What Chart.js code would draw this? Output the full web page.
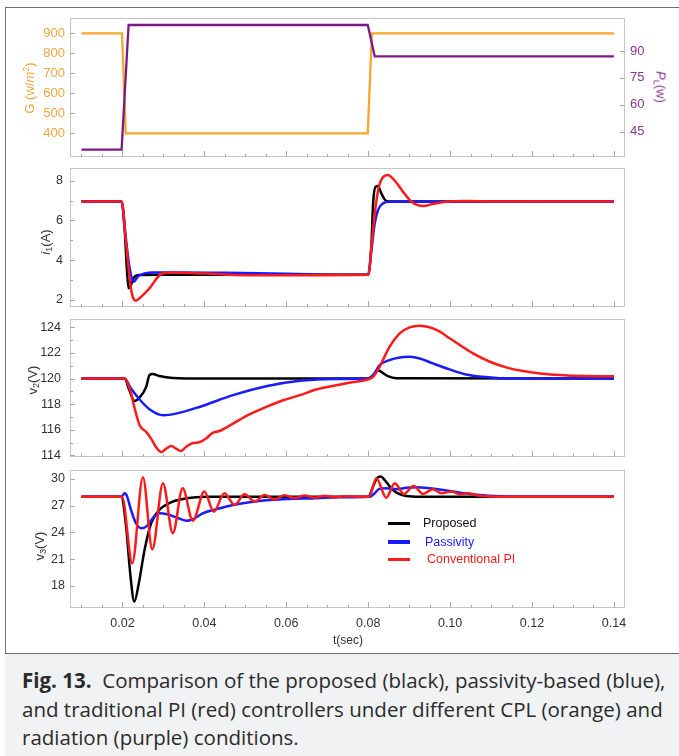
<!DOCTYPE html>
<html>
<head>
<meta charset="utf-8">
<script src="https://cdn.jsdelivr.net/npm/chart.js@4.4.0/dist/chart.umd.min.js"></script>
<style>
  html, body { margin: 0; padding: 0; background: #fff; }
  #page { position: relative; width: 679px; height: 756px; overflow: hidden; font-family: "Liberation Sans", Arial, sans-serif; }
  .frame { position: absolute; left: 5px; top: 7px; width: 700px; height: 760px; border-left: 1.5px solid #6f6f6f; border-top: 1.5px solid #6f6f6f; }
  canvas { position: absolute; left: 0; }
  .ttl { position: absolute; white-space: nowrap; font-size: 13px; line-height: 1; color: #333; transform: translate(-50%, -50%) rotate(-90deg); }
  .ttl.r { transform: translate(-50%, -50%) rotate(90deg); }
  .ttl.h { transform: translate(-50%, -50%); font-size: 12px; }
  sub, sup { font-size: 0.7em; line-height: 0; }
  sub { vertical-align: -0.3em; }
  sup { vertical-align: 0.55em; }
  .sw { position: absolute; left: 388px; width: 22px; height: 3.5px; }
  .lt { position: absolute; font-size: 12.5px; line-height: 1; transform: translateY(-50%); white-space: nowrap; }
  #cap { position: absolute; left: 5px; top: 653px; width: 674px; height: 103px; box-sizing: border-box;
         background: #f1f2f3; border-top: 1.5px solid #6f6f6f; padding: 12px 0 0 17px;
         font-family: "Open Sans", sans-serif; font-size: 20.5px; line-height: 28.5px; color: #2b2b2b;
         white-space: nowrap; }
</style>
</head>
<body>
<div id="page">
  <div class="frame"></div>
  <canvas id="c1" width="679" height="179" style="top:-2px"></canvas>
  <canvas id="c2" width="679" height="179" style="top:148px"></canvas>
  <canvas id="c3" width="679" height="178" style="top:299px"></canvas>
  <canvas id="c4" width="679" height="203" style="top:450px"></canvas>

  <div class="ttl" style="left:29px;top:88px;color:#f0a540">G (w/<i>m</i><sup>2</sup>)</div>
  <div class="ttl r" style="left:661px;top:87px;color:#8c3390"><i>P</i><sub>L</sub>(w)</div>
  <div class="ttl" style="left:45px;top:242px"><i>i</i><sub>1</sub>(A)</div>
  <div class="ttl" style="left:32px;top:380px">v<sub>2</sub>(V)</div>
  <div class="ttl" style="left:39px;top:546px">v<sub>3</sub>(V)</div>
  <div class="ttl h" style="left:348px;top:640px">t(sec)</div>

  <div class="sw" style="top:521.5px;background:#000"></div>
  <div class="lt" style="left:423px;top:523px;color:#111">Proposed</div>
  <div class="sw" style="top:540px;background:#1a1aff"></div>
  <div class="lt" style="left:425px;top:541.5px;color:#1a1aff">Passivity</div>
  <div class="sw" style="top:557.5px;background:#ff1a1a"></div>
  <div class="lt" style="left:427px;top:559px;color:#ff1a1a">Conventional PI</div>

  <div id="cap"><b>Fig. 13.</b>&nbsp; Comparison of the proposed (black), passivity-based (blue),<br>and traditional PI (red) controllers under different CPL (orange) and<br>radiation (purple) conditions.</div>
</div>

<script>
'use strict';

// x axis (time, s)
const X_MIN = 0.0072;
const X_MAX = 0.1427;
const xTicks = [0.02, 0.04, 0.06, 0.08, 0.10, 0.12, 0.14];
const xTickMarks = [0.01, 0.015, 0.02, 0.025, 0.03, 0.035, 0.04, 0.045, 0.05, 0.055, 0.06, 0.065, 0.07,
  0.075, 0.08, 0.085, 0.09, 0.095, 0.10, 0.105, 0.11, 0.115, 0.12, 0.125, 0.13, 0.135, 0.14];

// panel 1 : radiation G and load power P_L
const gTicks  = [400, 500, 600, 700, 800, 900];
const plTicks = [45, 60, 75, 90];
const tG    = [0.01, 0.0199, 0.0208, 0.0799, 0.0809, 0.14];
const gIrr  = [900, 900, 400, 400, 900, 900];
const tPL   = [0.01, 0.0198, 0.0215, 0.0799, 0.0816, 0.14];
const pLoad = [35, 35, 104.5, 104.5, 87, 87];

// panel 2 : i1 (A)
const i1Ticks = [2, 4, 6, 8];
const i1Minor = [3, 5, 7];
const tI1Black = [0.01, 0.0197, 0.0205, 0.0211, 0.0215, 0.0221, 0.0229, 0.0242, 0.03, 0.05, 0.08,
  0.0808, 0.0812, 0.0818, 0.0824, 0.0832, 0.0844, 0.0861, 0.14];
const i1Black  = [6.95, 6.95, 5.69, 3.51, 2.59, 2.76, 3.17, 3.26, 3.27, 3.27, 3.27,
  4.85, 6.86, 7.70, 7.73, 7.37, 6.98, 6.95, 6.95];
const tI1Blue  = [0.01, 0.0198, 0.0207, 0.0217, 0.0228, 0.0237, 0.0254, 0.0274, 0.035, 0.045, 0.06, 0.08,
  0.0808, 0.0816, 0.0824, 0.0836, 0.0853, 0.14];
const i1Blue   = [6.95, 6.95, 5.36, 3.68, 2.92, 3.17, 3.34, 3.39, 3.39, 3.37, 3.32, 3.27,
  4.52, 5.86, 6.53, 6.86, 6.94, 6.95];
const tI1Red   = [0.01, 0.0198, 0.0209, 0.0219, 0.0225, 0.0233, 0.0246, 0.0266, 0.0295, 0.032, 0.04, 0.05,
  0.065, 0.08, 0.0808, 0.0816, 0.0826, 0.0836, 0.0848, 0.0865, 0.0885, 0.0906, 0.0934, 0.0958, 0.0991,
  0.104, 0.11, 0.14];
const i1Red    = [6.95, 6.95, 4.85, 2.84, 2.17, 1.97, 2.17, 2.59, 3.31, 3.38, 3.33, 3.25,
  3.25, 3.27, 4.68, 6.36, 7.70, 8.17, 8.29, 8.0, 7.45, 6.94, 6.73, 6.83, 6.94,
  6.98, 6.96, 6.95];

// panel 3 : v2 (V)
const v2Ticks = [114, 116, 118, 120, 122, 124];
const v2Minor = [115, 117, 119, 121, 123];
const tV2Black = [0.01, 0.0205, 0.0217, 0.0229, 0.0242, 0.0258, 0.0266, 0.0274, 0.029, 0.0323, 0.04, 0.08,
  0.0812, 0.0824, 0.0832, 0.0848, 0.0869, 0.14];
const v2Black  = [120, 120, 119.09, 118.25, 118.52, 119.35, 120.27, 120.35, 120.2, 120.05, 120, 120,
  120.26, 120.65, 120.52, 120.19, 120.03, 120];
const tV2Blue  = [0.01, 0.0205, 0.0221, 0.0242, 0.0266, 0.0299, 0.0331, 0.0388, 0.047, 0.0551, 0.0633,
  0.0714, 0.08, 0.0812, 0.0828, 0.0852, 0.0877, 0.0901, 0.0926, 0.0958, 0.0999, 0.1039, 0.108, 0.1121,
  0.1178, 0.14];
const v2Blue   = [120, 120, 119.22, 118.36, 117.6, 117.13, 117.26, 117.78, 118.7, 119.4, 119.82,
  119.97, 120, 120.26, 121.05, 121.44, 121.65, 121.7, 121.57, 121.18, 120.71, 120.32, 120.13, 120.03,
  120, 120];
const tV2Red   = [0.01, 0.0205, 0.0219, 0.0229, 0.0242, 0.0258, 0.027, 0.0282, 0.0295, 0.0307, 0.0319,
  0.0331, 0.0343, 0.0355, 0.0372, 0.0388, 0.0404, 0.042, 0.0437, 0.047, 0.051, 0.0551, 0.0592, 0.0633,
  0.0673, 0.0714, 0.076, 0.08, 0.0812, 0.0828, 0.0852, 0.0877, 0.0901, 0.0926, 0.095, 0.0975, 0.0999,
  0.1024, 0.1056, 0.1097, 0.1137, 0.1178, 0.1219, 0.126, 0.13, 0.14];
const v2Red    = [120, 120, 119.09, 117.78, 116.35, 115.83, 115.31, 114.65, 114.26, 114.52, 114.73,
  114.52, 114.34, 114.65, 114.96, 115.02, 115.31, 115.75, 115.9, 116.48, 117.2, 117.78, 118.3, 118.7,
  119.14, 119.42, 119.7, 119.93, 120.13, 120.92, 122.48, 123.53, 124.0, 124.13, 124.0, 123.66, 123.14,
  122.61, 121.96, 121.31, 120.87, 120.58, 120.4, 120.29, 120.21, 120.18];

// panel 4 : v3 (V)
const v3Ticks = [18, 21, 24, 27, 30];
const tV3Black = [0.01, 0.0197, 0.0209, 0.0219, 0.0229, 0.024, 0.0254, 0.027, 0.029, 0.0323, 0.0356, 0.0405,
  0.08, 0.0812, 0.0821, 0.0831, 0.084, 0.0853, 0.0869, 0.0893, 0.0926, 0.14];
const v3Black  = [28, 28, 24.65, 19.42, 16.24, 18.3, 22.04, 25.03, 26.52, 27.46, 27.83, 28,
  28, 29.14, 30.07, 30.26, 29.89, 29.14, 28.46, 28.09, 28, 28];
const tV3Blue  = [0.01, 0.0198, 0.0205, 0.021, 0.0221, 0.0233, 0.0246, 0.0258, 0.0274, 0.029, 0.0307,
  0.0331, 0.0356, 0.0372, 0.0396, 0.0429, 0.047, 0.0519, 0.0592, 0.0673, 0.073, 0.0805, 0.0816, 0.0826,
  0.0844, 0.0869, 0.0893, 0.0918, 0.095, 0.0983, 0.1024, 0.1072, 0.1121, 0.1178, 0.14];
const v3Blue   = [28, 28, 28.4, 28.2, 26.52, 25.03, 24.47, 24.65, 25.59, 26.15, 26.07,
  25.7, 25.32, 25.48, 26.15, 26.6, 27.08, 27.45, 27.72, 27.83, 27.94, 28, 28.4, 28.85,
  28.96, 28.85, 29.0, 29.07, 28.96, 28.77, 28.46, 28.2, 28.06, 28, 28];
const tV3Red   = [0.01, 0.0199, 0.0224, 0.025, 0.0273, 0.0299, 0.0323, 0.0347, 0.0372, 0.04, 0.0423,
  0.0449, 0.0474, 0.0498, 0.0523, 0.0547, 0.0571, 0.0596, 0.062, 0.0645, 0.0669, 0.0694, 0.0718, 0.0742,
  0.0802, 0.082, 0.0844, 0.0865, 0.0887, 0.0911, 0.0934, 0.0958, 0.0979, 0.1003, 0.1024, 0.1044, 0.1064,
  0.1089, 0.1138, 0.14];
const v3Red    = [28, 28, 20.55, 30.19, 22.11, 29.52, 23.91, 28.96, 25.32, 28.58, 26.33,
  28.4, 27.08, 28.28, 27.45, 28.2, 27.72, 28.17, 27.85, 28.13, 27.9, 28.1, 27.95, 28.05,
  28, 30.07, 27.9, 29.52, 28.32, 29.21, 28.32, 28.85, 28.4, 28.58, 28.28, 28.4, 28.17,
  28.06, 28, 28];

const C_BLACK = '#000000';
const C_BLUE  = '#1a1aff';
const C_RED   = '#ff1a1a';
const C_ORANGE = '#f7a52c';
const C_PURPLE = '#7a1b85';

// room above / below each plot area inside its canvas (must exceed the
// y-label half height + tick padding, else Chart.js shrinks the plot area)
const PAD = 20;

// frame + inward tick marks (Mathematica style)
const frameTicks = {
  id: 'frameTicks',
  beforeDatasetsDraw(chart, args, opts) {
    const { ctx, chartArea: a, scales } = chart;
    ctx.save();
    ctx.lineWidth = 1;
    ctx.strokeStyle = '#c6c6c6';
    ctx.strokeRect(a.left + 0.5, a.top + 0.5, a.right - a.left - 1, a.bottom - a.top - 1);
    ctx.strokeStyle = '#a8a8a8';
    ctx.beginPath();
    xTickMarks.forEach(t => {
      const p = Math.round(scales.x.getPixelForValue(t)) + 0.5;
      const len = xTicks.some(m => Math.abs(m - t) < 1e-9) ? 6 : 3;
      ctx.moveTo(p, a.bottom);
      ctx.lineTo(p, a.bottom - len);
    });
    ['y', 'y2'].forEach(id => {
      const m = opts[id];
      const s = scales[id];
      if (!m || !s) return;
      const left = s.position === 'left';
      const edge = left ? a.left : a.right;
      const dir = left ? 1 : -1;
      const mark = (v, len) => {
        const p = Math.round(s.getPixelForValue(v)) + 0.5;
        ctx.moveTo(edge, p);
        ctx.lineTo(edge + dir * len, p);
      };
      (m.major || []).forEach(v => mark(v, 5));
      (m.minor || []).forEach(v => mark(v, 3));
    });
    ctx.stroke();
    ctx.restore();
  }
};

const pts = (ts, vs) => ts.map((t, i) => ({ x: t, y: vs[i] }));

function line(label, ts, vs, color, order, width, straight) {
  return {
    label, data: pts(ts, vs), borderColor: color, borderWidth: width || 2.5,
    pointRadius: 0, fill: false, order,
    cubicInterpolationMode: straight ? 'default' : 'monotone', tension: 0
  };
}

function xAxis(showLabels, height) {
  return {
    type: 'linear', min: X_MIN, max: X_MAX,
    grid: { display: false, drawTicks: false },
    border: { display: false },
    afterBuildTicks: s => { s.ticks = xTicks.map(v => ({ value: v })); },
    ticks: { display: showLabels, padding: 8, color: '#333', font: { size: 12.5, family: 'Liberation Sans' },
             callback: v => v.toFixed(2), maxRotation: 0 },
    afterFit: s => { s.height = height; }
  };
}

function yAxis(min, max, ticks, position, width, color, pad, size) {
  return {
    type: 'linear', min, max, position,
    grid: { display: false, drawTicks: false },
    border: { display: false },
    afterBuildTicks: s => { s.ticks = ticks.map(v => ({ value: v })); },
    ticks: { color, padding: pad, font: { size: size || 12.5, family: 'Liberation Sans' } },
    afterFit: s => { s.width = width; }
  };
}

function panel(id, datasets, scales, marks, rightPad) {
  return new Chart(document.getElementById(id), {
    type: 'line',
    data: { datasets },
    options: {
      responsive: false, animation: false, devicePixelRatio: 1,
      layout: { padding: { top: PAD, left: 0, right: rightPad, bottom: 0 } },
      plugins: { legend: { display: false }, tooltip: { enabled: false }, frameTicks: marks },
      scales
    },
    plugins: [frameTicks]
  });
}

// panel 1
panel('c1', [
  { ...line('P_L', tPL, pLoad, C_PURPLE, 0, 2.3, true), yAxisID: 'y2' },
  { ...line('G', tG, gIrr, C_ORANGE, 1, 2.3, true), yAxisID: 'y' }
], {
  x: xAxis(false, PAD),
  y: yAxis(281.5, 976.5, gTicks, 'left', 70, '#f0a540', 5, 13),
  y2: yAxis(30.9, 108.4, plTicks, 'right', 54, '#8c3390', 5, 13)
}, { y: { major: gTicks }, y2: { major: plTicks } }, 0);

// panel 2
panel('c2', [
  line('Conventional PI', tI1Red, i1Red, C_RED, 0),
  line('Passivity', tI1Blue, i1Blue, C_BLUE, 1),
  line('Proposed', tI1Black, i1Black, C_BLACK, 2)
], {
  x: xAxis(false, PAD),
  y: yAxis(1.65, 8.64, i1Ticks, 'left', 70, '#333', 7)
}, { y: { major: i1Ticks, minor: i1Minor } }, 54);

// panel 3
panel('c3', [
  line('Conventional PI', tV2Red, v2Red, C_RED, 0),
  line('Passivity', tV2Blue, v2Blue, C_BLUE, 1),
  line('Proposed', tV2Black, v2Black, C_BLACK, 2)
], {
  x: xAxis(false, PAD),
  y: yAxis(113.87, 124.65, v2Ticks, 'left', 70, '#333', 9)
}, { y: { major: v2Ticks, minor: v2Minor } }, 54);

// panel 4
panel('c4', [
  line('Conventional PI', tV3Red, v3Red, C_RED, 0),
  line('Passivity', tV3Blue, v3Blue, C_BLUE, 1),
  line('Proposed', tV3Black, v3Black, C_BLACK, 2)
], {
  x: xAxis(true, 45),
  y: yAxis(15.53, 31.0, v3Ticks, 'left', 70, '#333', 5)
}, { y: { major: v3Ticks } }, 54);
</script>
</body>
</html>
